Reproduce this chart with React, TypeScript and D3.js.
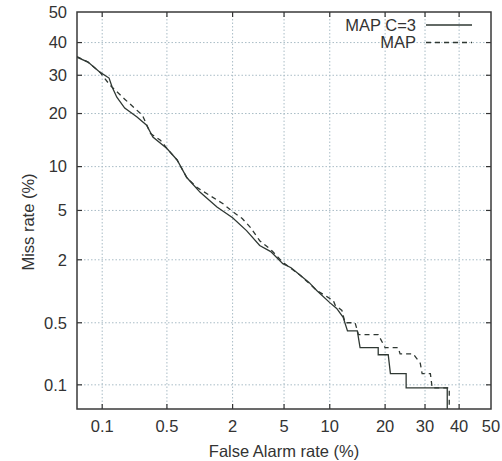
import React, { useRef, useEffect } from 'react';
import * as d3 from 'd3';

// DET curve points: [false alarm %, miss %]
const mapC3: [number, number][] = [
  [0.05, 35.4], [0.068, 33.9], [0.094, 30.9], [0.12, 29.2], [0.13, 26.7], [0.147, 24.0],
  [0.18, 21.3], [0.245, 19.2], [0.31, 17.4], [0.36, 15.0], [0.5, 12.9], [0.63, 11.0],
  [0.78, 8.5], [1.04, 6.75], [1.47, 5.3], [2.0, 4.4], [2.6, 3.5], [3.3, 2.65], [4.0, 2.35],
  [4.9, 1.85], [5.6, 1.7], [6.5, 1.45], [7.4, 1.25], [8.3, 1.05], [10.0, 0.8], [11.0, 0.7],
  [12.0, 0.57], [12.7, 0.41], [14.4, 0.41], [14.9, 0.27], [18.5, 0.27], [18.5, 0.225],
  [20.7, 0.225], [21.2, 0.136], [25.0, 0.136], [25.0, 0.092], [36.4, 0.092], [36.4, 0.05],
];

const mapBase: [number, number][] = [
  [0.05, 35.6], [0.068, 33.9], [0.094, 30.9], [0.123, 27.2], [0.18, 23.5], [0.28, 19.6],
  [0.34, 15.7], [0.43, 14.4], [0.5, 12.9], [0.63, 11.0], [0.78, 8.5], [0.97, 7.3], [1.2, 6.6],
  [1.66, 5.6], [2.0, 4.9], [2.4, 4.35], [2.8, 3.7], [3.3, 2.9], [4.0, 2.45], [4.9, 1.9],
  [6.5, 1.45], [8.3, 1.05], [10.5, 0.84], [10.8, 0.75], [11.8, 0.67], [12.3, 0.5], [14.0, 0.5],
  [14.6, 0.375], [18.5, 0.375], [20.0, 0.27], [23.0, 0.27], [23.5, 0.23], [26.8, 0.23],
  [28.7, 0.18], [29.2, 0.136], [31.5, 0.136], [32.0, 0.092], [37.0, 0.092], [37.0, 0.05],
];

const xTicks = [0.1, 0.5, 2, 5, 10, 20, 30, 40, 50];
const yTicks = [0.1, 0.5, 2, 5, 10, 20, 30, 40, 50];
const seriesNames = ['MAP C=3', 'MAP'];

// inverse normal cdf (Acklam)
function probit(p: number): number {
  const a = [-39.69683028665376, 220.9460984245205, -275.9285104469687, 138.357751867269, -30.66479806614716, 2.506628277459239];
  const b = [-54.47609879822406, 161.5858368580409, -155.6989798598866, 66.80131188771972, -13.28068155288572];
  const c = [-0.007784894002430293, -0.3223964580411365, -2.400758277161838, -2.549732539343734, 4.374664141464968, 2.938163982698783];
  const d = [0.007784695709041462, 0.3224671290700398, 2.445134137142996, 3.754408661907416];
  const pl = 0.02425;
  if (p < pl) {
    const q = Math.sqrt(-2 * Math.log(p));
    return (((((c[0] * q + c[1]) * q + c[2]) * q + c[3]) * q + c[4]) * q + c[5]) /
      ((((d[0] * q + d[1]) * q + d[2]) * q + d[3]) * q + 1);
  }
  if (p > 1 - pl) return -probit(1 - p);
  const q = p - 0.5;
  const r = q * q;
  return (((((a[0] * r + a[1]) * r + a[2]) * r + a[3]) * r + a[4]) * r + a[5]) * q /
    (((((b[0] * r + b[1]) * r + b[2]) * r + b[3]) * r + b[4]) * r + 1);
}

const App = () => {
  const svgRef = useRef<SVGSVGElement>(null);

  useEffect(() => {
    const W = 502, H = 461;
    const margin = { top: 12, right: 11, bottom: 52, left: 77 };
    const left = margin.left, right = W - margin.right, top = margin.top, bottom = H - margin.bottom;

    const svg = d3.select(svgRef.current).attr('width', W).attr('height', H);
    svg.selectAll('*').remove();

    const lo = probit(0.0005);
    const xs = d3.scaleLinear().domain([lo, 0]).range([left, right]);
    const ys = d3.scaleLinear().domain([lo, 0]).range([bottom, top]);
    const x = (v: number) => xs(probit(v / 100));
    const y = (v: number) => ys(probit(v / 100));

    const ink = '#333';
    const font = 'Liberation Sans, Arial, sans-serif';
    const fs = 16.5;

    svg.append('rect').attr('width', W).attr('height', H).attr('fill', '#fff');

    svg.append('defs').append('clipPath').attr('id', 'plot')
      .append('rect').attr('x', left).attr('y', top).attr('width', right - left).attr('height', bottom - top);

    // grid
    const grid = svg.append('g').attr('stroke', '#a9bcc6').attr('stroke-width', 1).attr('stroke-dasharray', '1.5,2');
    xTicks.filter(t => t < 50).forEach(t => {
      grid.append('line').attr('x1', x(t)).attr('x2', x(t)).attr('y1', top).attr('y2', bottom);
    });
    yTicks.filter(t => t < 50).forEach(t => {
      grid.append('line').attr('x1', left).attr('x2', right).attr('y1', y(t)).attr('y2', y(t));
    });

    // inward ticks on all four sides
    const tk = svg.append('g').attr('stroke', ink).attr('stroke-width', 1.2);
    xTicks.filter(t => t < 50).forEach(t => {
      tk.append('line').attr('x1', x(t)).attr('x2', x(t)).attr('y1', bottom).attr('y2', bottom - 5);
      tk.append('line').attr('x1', x(t)).attr('x2', x(t)).attr('y1', top).attr('y2', top + 5);
    });
    yTicks.filter(t => t < 50).forEach(t => {
      tk.append('line').attr('x1', left).attr('x2', left + 5).attr('y1', y(t)).attr('y2', y(t));
      tk.append('line').attr('x1', right).attr('x2', right - 5).attr('y1', y(t)).attr('y2', y(t));
    });

    // tick labels
    svg.append('g').selectAll('text').data(xTicks).enter().append('text')
      .attr('x', d => x(d)).attr('y', 432).attr('text-anchor', 'middle')
      .attr('font-family', font).attr('font-size', fs).attr('fill', ink)
      .text(d => String(d));
    svg.append('g').selectAll('text').data(yTicks).enter().append('text')
      .attr('x', 67).attr('y', d => y(d)).attr('dy', '0.35em').attr('text-anchor', 'end')
      .attr('font-family', font).attr('font-size', fs).attr('fill', ink)
      .text(d => String(d));

    // axis titles
    svg.append('text').attr('x', (left + right) / 2).attr('y', 457).attr('text-anchor', 'middle')
      .attr('font-family', font).attr('font-size', fs).attr('fill', ink).text('False Alarm rate (%)');
    svg.append('text').attr('transform', `translate(34,222) rotate(-90)`).attr('text-anchor', 'middle')
      .attr('font-family', font).attr('font-size', fs).attr('fill', ink).text('Miss rate (%)');

    // curves
    const line = d3.line<[number, number]>().x(d => x(d[0])).y(d => y(d[1]));
    const curves = svg.append('g').attr('clip-path', 'url(#plot)').attr('fill', 'none');
    curves.append('path').attr('d', line(mapBase)).attr('stroke', '#2f3833')
      .attr('stroke-width', 1.3).attr('stroke-dasharray', '5,4');
    curves.append('path').attr('d', line(mapC3)).attr('stroke', '#2f3833').attr('stroke-width', 1.3);

    // frame
    svg.append('rect').attr('x', left).attr('y', top).attr('width', right - left).attr('height', bottom - top)
      .attr('fill', 'none').attr('stroke', '#3a3a3a').attr('stroke-width', 1.5);

    // legend
    const leg = svg.append('g');
    seriesNames.forEach((name, i) => {
      const ly = 25 + i * 17.5;
      leg.append('text').attr('x', 416).attr('y', ly).attr('dy', '0.35em').attr('text-anchor', 'end')
        .attr('font-family', font).attr('font-size', fs).attr('fill', ink).text(name);
      leg.append('line').attr('x1', 426).attr('x2', 472).attr('y1', ly).attr('y2', ly)
        .attr('stroke', '#2f3833').attr('stroke-width', 1.3)
        .attr('stroke-dasharray', i === 1 ? '5,4' : null);
    });
  }, []);

  return <svg ref={svgRef} style={{ position: 'absolute', left: 0, top: 0, display: 'block' }}></svg>;
};

export default App;
